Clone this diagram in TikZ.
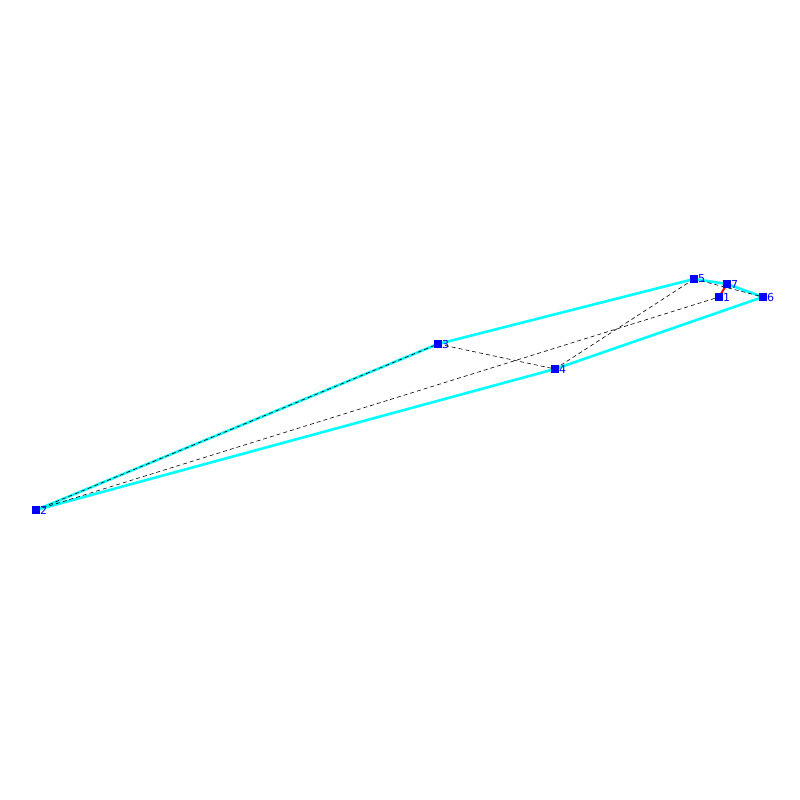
\documentclass[tikz,border=0pt]{standalone}
\usepackage{fontspec}
\setmainfont{DejaVu Sans}
\definecolor{aqua}{RGB}{0,255,255}
\definecolor{ptblue}{RGB}{0,0,255}
\begin{document}
\begin{tikzpicture}[x=1pt,y=-1pt,
  ptbox/.style={fill=ptblue,inner sep=0pt,minimum size=8pt,draw=none},
  lbl/.style={text=ptblue,font=\fontsize{11}{11}\selectfont,inner sep=0pt,anchor=west,xshift=4pt},
  cyanedge/.style={aqua,line width=2.6pt},
  dashline/.style={black,line width=0.6pt,dash pattern=on 4pt off 3pt},
  redline/.style={red,line width=2pt}]
\useasboundingbox (0,0) rectangle (800,800);
\coordinate (p1) at (719,297);
\coordinate (p2) at (36,510);
\coordinate (p3) at (438,344);
\coordinate (p4) at (555,369);
\coordinate (p5) at (694,279);
\coordinate (p6) at (763,297);
\coordinate (p7) at (727,284);
\draw[cyanedge] (p2) -- (p3) -- (p5) -- (p7) -- (p6) -- (p4) -- (p2);
\draw[redline] (p1) -- (p7);
\draw[dashline] (p2) -- (p3);
\draw[dashline] (p3) -- (p4);
\draw[dashline] (p4) -- (p5);
\draw[dashline] (p2) -- (p1);
\draw[dashline] (p5) -- (p6);
\foreach \i in {1,...,7} {
  \node[ptbox] (n\i) at (p\i) {};
  \node[lbl] (l\i) at (p\i) {\i};
}
\end{tikzpicture}
\end{document}
